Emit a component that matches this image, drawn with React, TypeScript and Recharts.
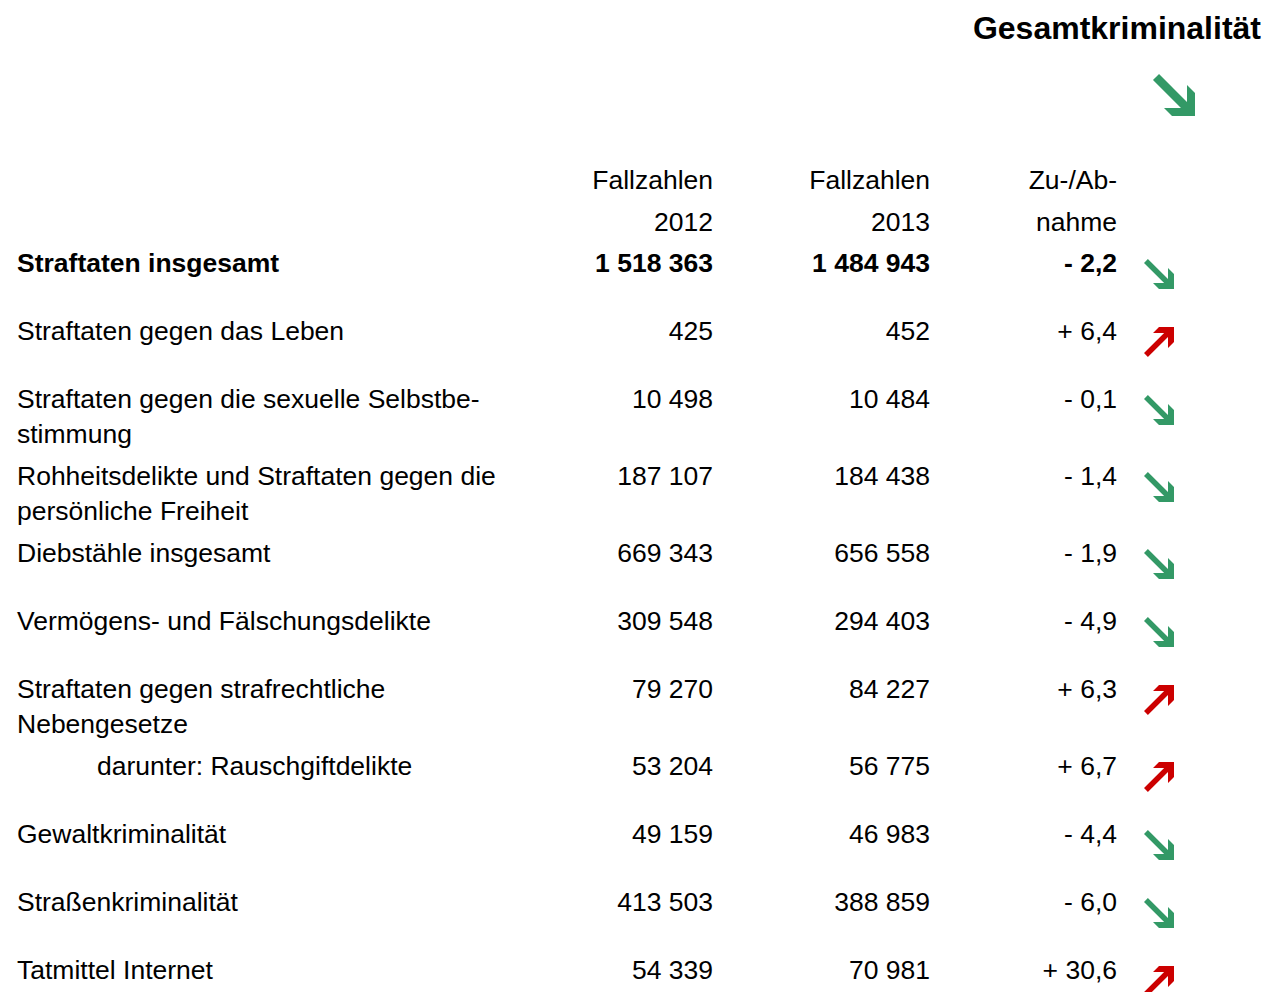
import { Scatter, ScatterChart, XAxis, YAxis } from "recharts";

const title = "Gesamtkriminalität";

const columnHeads: string[][] = [
  ["Fallzahlen", "2012"],
  ["Fallzahlen", "2013"],
  ["Zu-/Ab-", "nahme"],
];

const rowLabels: string[][] = [
  ["Straftaten insgesamt"],
  ["Straftaten gegen das Leben"],
  ["Straftaten gegen die sexuelle Selbstbe-", "stimmung"],
  ["Rohheitsdelikte und Straftaten gegen die", "persönliche Freiheit"],
  ["Diebstähle insgesamt"],
  ["Vermögens- und Fälschungsdelikte"],
  ["Straftaten gegen strafrechtliche", "Nebengesetze"],
  ["darunter: Rauschgiftdelikte"],
  ["Gewaltkriminalität"],
  ["Straßenkriminalität"],
  ["Tatmittel Internet"],
];

const cases2012 = [1518363, 425, 10498, 187107, 669343, 309548, 79270, 53204, 49159, 413503, 54339];
const cases2013 = [1484943, 452, 10484, 184438, 656558, 294403, 84227, 56775, 46983, 388859, 70981];
const changePct = [-2.2, 6.4, -0.1, -1.4, -1.9, -4.9, 6.3, 6.7, -4.4, -6.0, 30.6];

// layout
const W = 1264;
const H = 992;
const FIRST_BASELINE = 272;
const ROW_H = 68;
const EXTRA_LINE = 9;
const LINE_H = 35;
const FONT = "'Liberation Sans', Arial, Helvetica, sans-serif";
const FS = 26.5;
const GREEN = "#339966";
const RED = "#cc0000";
const colRight = [713, 930, 1117];

let acc = 0;
const rows = rowLabels.map((lines, i) => {
  const row = {
    x: 0,
    y: acc,
    lines,
    v2012: cases2012[i],
    v2013: cases2013[i],
    change: changePct[i],
    total: i === 0,
  };
  acc += ROW_H + (lines.length - 1) * EXTRA_LINE;
  return row;
});

const fmtInt = (n: number) => String(n).replace(/\B(?=(\d{3})+(?!\d))/g, " ");
const fmtPct = (v: number) => (v > 0 ? "+ " : "- ") + Math.abs(v).toFixed(1).replace(".", ",");

// thick arrow with open (chevron) head, corner at bottom-right (down) or top-right (up)
const Arrow = (p: { x: number; y: number; s: number; t: number; b: number; L: number; up: boolean }) => {
  const { x, y, s, t, b, L, up } = p;
  const d = t / Math.SQRT2;
  const pts: [number, number][] = [
    [0, d],
    [d, 0],
    [s - b, s - b - d],
    [s - b, s - L],
    [s, s - L + b],
    [s, s],
    [s - L + b, s],
    [s - L, s - b],
    [s - b - d, s - b],
  ];
  const str = pts.map(([px, py]) => `${x + px},${y + (up ? s - py : py)}`).join(" ");
  return <polygon points={str} fill={up ? RED : GREEN} />;
};

const RowShape = (props: any) => {
  const { cy, payload } = props;
  const weight = payload.total ? "bold" : "normal";
  const indent = payload.lines[0].startsWith("darunter") ? 97 : 17;
  return (
    <g fontFamily={FONT} fontSize={FS} fill="#000" fontWeight={weight}>
      {payload.lines.map((l: string, k: number) => (
        <text key={k} x={indent} y={cy + k * LINE_H}>
          {l}
        </text>
      ))}
      <text x={colRight[0]} y={cy} textAnchor="end">
        {fmtInt(payload.v2012)}
      </text>
      <text x={colRight[1]} y={cy} textAnchor="end">
        {fmtInt(payload.v2013)}
      </text>
      <text x={colRight[2]} y={cy} textAnchor="end">
        {fmtPct(payload.change)}
      </text>
      <Arrow x={1144} y={cy - 13} s={30} t={5.5} b={6} L={21} up={payload.change > 0} />
    </g>
  );
};

export default function App() {
  return (
    <div style={{ position: "absolute", left: 0, top: 0, width: W, height: H, background: "#fff" }}>
      <ScatterChart width={W} height={H} margin={{ top: 0, right: 0, bottom: 0, left: 0 }}>
        <XAxis type="number" dataKey="x" domain={[0, W]} hide />
        <YAxis
          type="number"
          dataKey="y"
          domain={[-FIRST_BASELINE, H - FIRST_BASELINE]}
          reversed
          hide
        />
        <Scatter data={rows} shape={RowShape} isAnimationActive={false} />
        <g fontFamily={FONT} fill="#000">
          <text x={1261} y={39} textAnchor="end" fontSize={32} fontWeight="bold">
            {title}
          </text>
          {columnHeads.map((head, i) => (
            <g key={i} fontSize={FS}>
              <text x={colRight[i]} y={189} textAnchor="end">
                {head[0]}
              </text>
              <text x={colRight[i]} y={231} textAnchor="end">
                {head[1]}
              </text>
            </g>
          ))}
          <Arrow x={1153} y={74} s={42} t={8.5} b={8} L={31} up={changePct[0] > 0} />
        </g>
      </ScatterChart>
    </div>
  );
}
